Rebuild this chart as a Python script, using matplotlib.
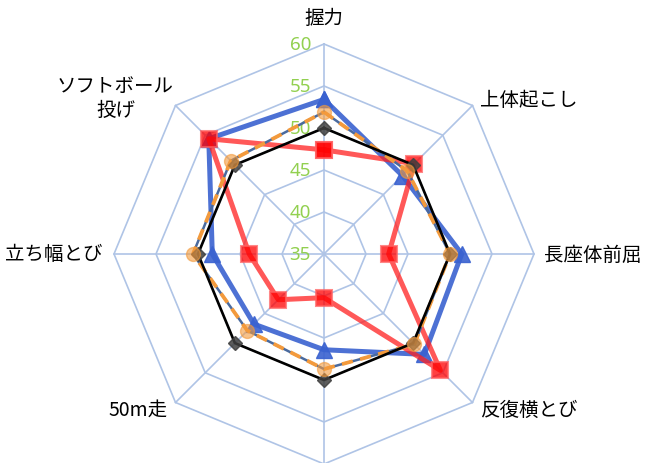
import numpy as np
import matplotlib
matplotlib.use("Agg")
import matplotlib.pyplot as plt

plt.rcParams['font.family'] = ['Noto Sans CJK JP', 'DejaVu Sans']

categories = ['握力', '上体起こし', '長座体前屈', '反復横とび', '20mシャトルラン', '50m走', '立ち幅とび', 'ソフトボール\n投げ']
blue_vals = [53.4, 48.2, 51.4, 51.9, 46.4, 46.8, 48.3, 54.4]
red_vals = [47.4, 50.2, 42.7, 54.6, 40.2, 42.7, 43.9, 54.4]
orange_vals = [51.9, 49.0, 50.0, 50.2, 48.7, 47.9, 50.6, 50.7]
black_vals = [50.0, 50.0, 50.0, 50.0, 50.0, 50.0, 50.0, 50.0]
r_ticks = [35, 40, 45, 50, 55, 60]
r_min, r_max = 35, 60

W, H = 649, 464
fig = plt.figure(figsize=(W / 100, H / 100), dpi=100)
cx, cy, R = 324, 255, 210
ax = fig.add_axes([(cx - R) / W, (H - cy - R) / H, 2 * R / W, 2 * R / H], projection='polar')
ax.set_theta_zero_location('N')
ax.set_theta_direction(-1)
ax.set_ylim(r_min, r_max)
ax.axis('off')

n = len(categories)
theta = np.arange(n) * 2 * np.pi / n
theta_c = np.append(theta, theta[0])

def closed(v):
    return np.append(v, v[0])

grid_c = '#AFC4E6'
for rv in r_ticks[1:]:
    ax.plot(theta_c, [rv] * (n + 1), color=grid_c, lw=1.2, zorder=1, clip_on=False)
for t in theta:
    ax.plot([t, t], [r_min, r_max], color=grid_c, lw=1.2, zorder=1, clip_on=False)

for rv in r_ticks:
    ax.annotate(str(rv), xy=(0, rv), xytext=(-13, 0), textcoords='offset pixels',
                ha='right', va='center', fontsize=13.5, color='#92D050',
                family=['Noto Sans', 'DejaVu Sans'], zorder=2)

# blue series
ax.plot(theta_c, closed(blue_vals), color='#3A62D0', lw=3.6, alpha=0.9, zorder=3,
        marker='^', ms=11, mfc='#3A62D0', mec='#3A62D0', clip_on=False)
# red series
ax.plot(theta_c, closed(red_vals), color='#FF2020', lw=3.6, alpha=0.75, zorder=4,
        marker='s', ms=11, mfc='#FF0000', mec='#FF6060', mew=1.5, clip_on=False)
# orange dashed series with slate line beneath
ax.plot(theta_c, closed(orange_vals), color='#4A6A9E', lw=1.8, zorder=5, clip_on=False)
ax.plot(theta_c, closed(orange_vals), color='#F39A3C', lw=2.7, ls=(0, (3, 2)), zorder=6, clip_on=False)
# black series
ax.plot(theta_c, closed(black_vals), color='black', lw=1.9, zorder=7, clip_on=False)
ax.plot(theta, black_vals, ls='none', marker='D', ms=7, mfc='#404040', mec='#404040',
        alpha=0.85, zorder=8, clip_on=False)
# orange markers on top
ax.plot(theta, orange_vals, ls='none', marker='o', ms=10, mfc='#F39A3C', mec='#F39A3C',
        alpha=0.6, zorder=9, clip_on=False)

label_specs = [
    ((0, 27), 'center', 'center'),
    ((8, 6), 'left', 'center'),
    ((10, 0), 'left', 'center'),
    ((8, -7), 'left', 'center'),
    ((0, -27), 'center', 'center'),
    ((-8, -7), 'right', 'center'),
    ((-11, 0), 'right', 'center'),
    ((-60, 8), 'center', 'center'),
]
for t, lab, (off, ha, va) in zip(theta, categories, label_specs):
    if t == np.pi:
        continue  # bottom label falls outside the visible canvas
    ax.annotate(lab, xy=(t, r_max), xytext=off, textcoords='offset pixels',
                ha=ha, va=va, fontsize=14, color='black', linespacing=1.15,
                annotation_clip=False)

fig.savefig('out.png', dpi=100)
